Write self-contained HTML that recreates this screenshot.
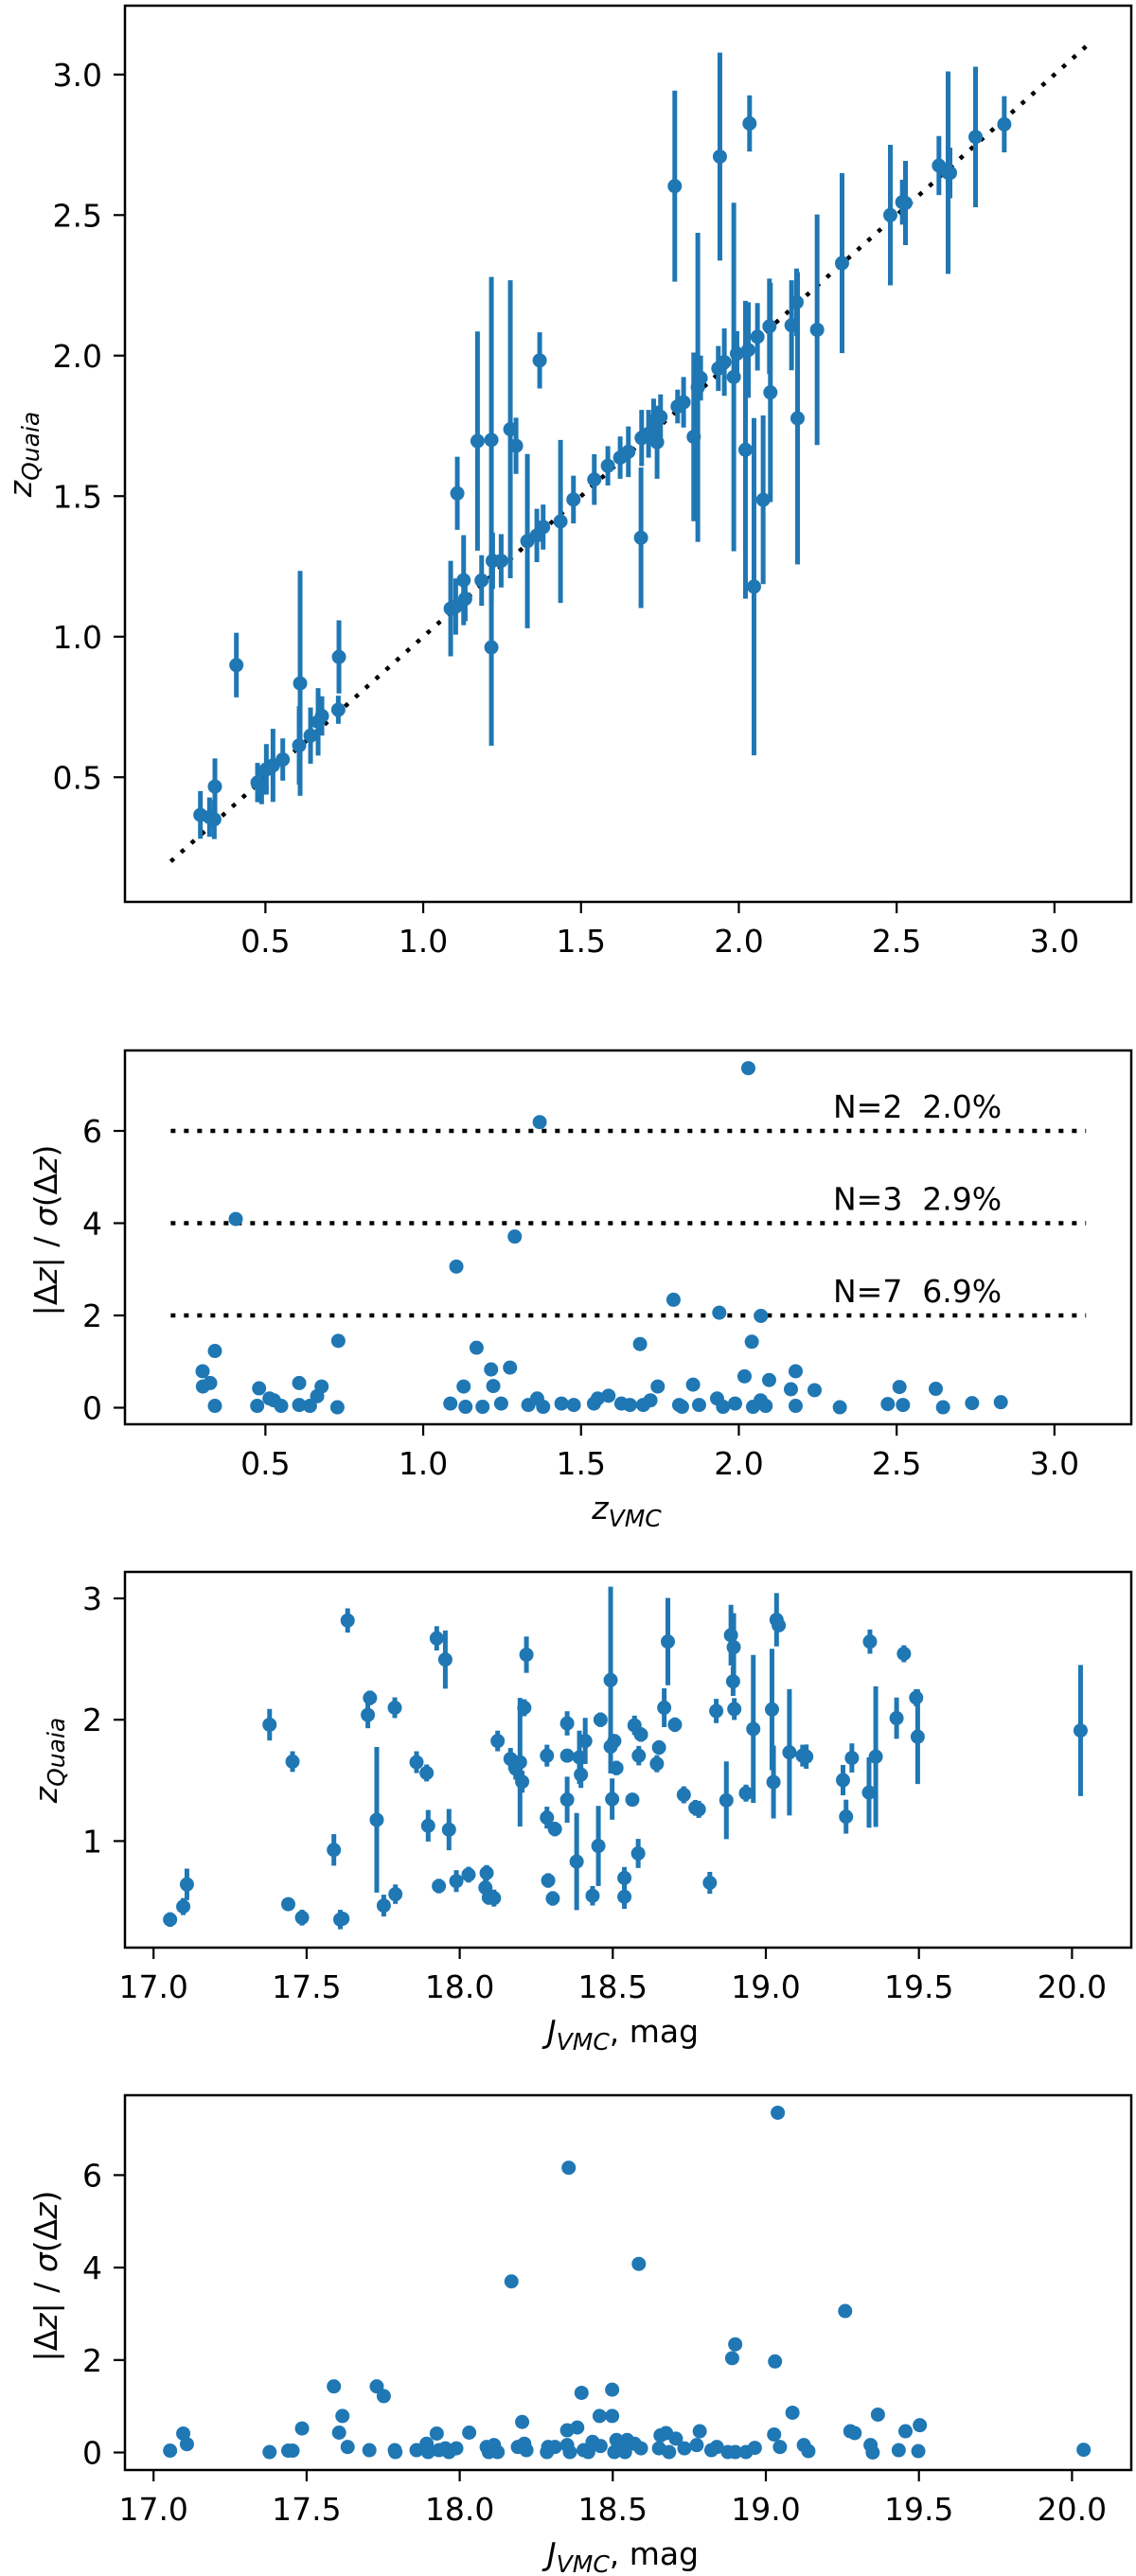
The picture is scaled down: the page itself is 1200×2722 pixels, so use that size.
<!DOCTYPE html>
<html><head><meta charset="utf-8">
<style>
html,body{margin:0;padding:0;background:#fff;}
svg{display:block;font-family:"DejaVu Sans","Liberation Sans",sans-serif;}
</style></head>
<body>
<svg id="fig" xmlns="http://www.w3.org/2000/svg" width="1200" height="2722" viewBox="0 0 1200 2722"></svg>
<script>
// ---------- Panel 1: z_Quaia vs z_VMC (with errors) ----------
const p1X = [0.294,0.323,0.340,0.338,0.408,0.475,0.488,0.503,0.524,0.555,0.607,0.610,0.643,0.667,0.679,0.731,0.733,1.087,1.103,1.108,1.128,1.133,1.172,1.185,1.216,1.216,1.220,1.247,1.276,1.294,1.330,1.360,1.380,1.369,1.435,1.476,1.542,1.585,1.624,1.650,1.692,1.690,1.714,1.741,1.730,1.752,1.806,1.825,1.797,1.857,1.870,1.879,1.940,1.935,1.954,1.984,1.994,2.034,2.021,2.030,2.048,2.059,2.077,2.097,2.100,2.167,2.183,2.186,2.248,2.327,2.480,2.518,2.528,2.634,2.663,2.669,2.750,2.841];
const p1Y = [0.366,0.358,0.467,0.350,0.899,0.481,0.464,0.528,0.542,0.563,0.613,0.834,0.648,0.697,0.718,0.740,0.928,1.100,1.107,1.510,1.201,1.135,1.696,1.200,1.700,0.962,1.270,1.270,1.738,1.679,1.340,1.360,1.390,1.983,1.410,1.488,1.559,1.608,1.637,1.658,1.707,1.352,1.722,1.692,1.767,1.782,1.819,1.834,2.603,1.711,1.887,1.920,2.708,1.954,1.977,1.924,2.007,2.826,1.665,2.020,1.178,2.067,1.487,2.104,1.869,2.108,2.190,1.777,2.092,2.329,2.500,2.546,2.543,2.676,2.651,2.650,2.778,2.823];
const p1Err = [0.085,0.07,0.10,0.07,0.115,0.07,0.06,0.09,0.13,0.075,0.14,0.40,0.10,0.12,0.07,0.05,0.13,0.17,0.10,0.13,0.16,0.08,0.39,0.09,0.58,0.35,0.10,0.095,0.53,0.10,0.31,0.095,0.08,0.10,0.29,0.085,0.09,0.07,0.075,0.09,0.10,0.25,0.085,0.13,0.08,0.08,0.06,0.09,0.34,0.30,0.55,0.08,0.37,0.08,0.12,0.62,0.08,0.10,0.53,0.17,0.60,0.12,0.30,0.17,0.39,0.16,0.12,0.52,0.41,0.32,0.25,0.08,0.15,0.105,0.36,0.09,0.25,0.10];
const p1Ticks = [0.5,1.0,1.5,2.0,2.5,3.0];
const p1TickLabels = ["0.5","1.0","1.5","2.0","2.5","3.0"];
const oneToOne = [0.2,3.1];

// ---------- Panel 2: |dz|/sigma vs z_VMC ----------
const p2X = [0.301,0.302,0.325,0.340,0.340,0.406,0.474,0.480,0.513,0.527,0.550,0.607,0.607,0.641,0.664,0.678,0.728,0.731,1.086,1.105,1.128,1.134,1.169,1.188,1.215,1.222,1.247,1.275,1.290,1.333,1.361,1.369,1.380,1.438,1.477,1.541,1.553,1.587,1.628,1.655,1.687,1.697,1.720,1.743,1.793,1.811,1.820,1.855,1.874,1.931,1.938,1.950,1.988,2.018,2.030,2.041,2.045,2.069,2.070,2.085,2.096,2.165,2.180,2.180,2.240,2.320,2.472,2.509,2.520,2.624,2.647,2.739,2.830];
const p2V = [0.79,0.46,0.535,1.23,0.04,4.09,0.04,0.42,0.20,0.16,0.04,0.535,0.06,0.04,0.25,0.46,0.01,1.45,0.09,3.06,0.46,0.02,1.30,0.02,0.83,0.47,0.09,0.87,3.71,0.06,0.20,6.19,0.02,0.09,0.06,0.09,0.20,0.26,0.09,0.06,1.38,0.06,0.16,0.46,2.34,0.06,0.02,0.50,0.06,0.20,2.06,0.02,0.09,0.68,7.36,1.43,0.02,0.16,1.99,0.04,0.60,0.40,0.04,0.79,0.38,0.01,0.08,0.45,0.06,0.41,0.01,0.10,0.12];
const p2Thresholds = [2,4,6];
const p2Notes = ["N=7  6.9%","N=3  2.9%","N=2  2.0%"];
const p2Ticks = [0,2,4,6];

// ---------- Panel 3: z_Quaia vs J_VMC ----------
const p3J = [17.054,17.097,17.109,17.379,17.44,17.454,17.485,17.589,17.61,17.617,17.634,17.70,17.707,17.729,17.752,17.788,17.79,17.859,17.892,17.897,17.925,17.932,17.953,17.965,17.989,18.029,18.088,18.084,18.095,18.112,18.124,18.166,18.183,18.197,18.204,18.211,18.218,18.285,18.285,18.289,18.304,18.311,18.351,18.351,18.351,18.382,18.391,18.396,18.41,18.434,18.453,18.46,18.493,18.493,18.498,18.505,18.512,18.538,18.538,18.564,18.571,18.585,18.583,18.592,18.644,18.651,18.668,18.68,18.703,18.732,18.77,18.781,18.817,18.838,18.871,18.886,18.893,18.895,18.897,18.935,18.959,19.02,19.025,19.035,19.042,19.077,19.12,19.132,19.252,19.262,19.281,19.337,19.34,19.359,19.427,19.451,19.491,19.496,20.028];
const p3Z = [0.353,0.46,0.643,1.959,0.48,1.655,0.369,0.927,0.353,0.36,2.818,2.04,2.18,1.175,0.468,2.099,0.562,1.65,1.561,1.126,2.671,0.629,2.496,1.094,0.67,0.723,0.737,0.616,0.535,0.53,1.825,1.677,1.596,1.65,1.489,2.099,2.536,1.704,1.193,0.675,0.527,1.099,1.97,1.341,1.704,0.831,1.69,1.548,1.825,0.549,0.96,2.0,2.327,1.779,1.346,1.825,1.602,0.696,0.541,1.341,1.954,1.704,0.898,1.878,1.637,1.771,2.099,2.644,1.959,1.381,1.274,1.261,0.656,2.072,1.336,2.697,2.316,2.598,2.088,1.395,1.924,2.085,1.486,2.824,2.778,1.731,1.704,1.696,1.502,1.201,1.685,1.40,2.644,1.696,2.013,2.544,2.182,1.86,1.911];
const p3Err = [0.06,0.07,0.13,0.13,0.05,0.085,0.065,0.13,0.08,0.05,0.10,0.11,0.06,0.60,0.09,0.085,0.08,0.09,0.07,0.13,0.10,0.06,0.24,0.17,0.09,0.065,0.065,0.07,0.06,0.07,0.085,0.09,0.09,0.53,0.09,0.07,0.15,0.09,0.09,0.06,0.06,0.06,0.10,0.19,0.05,0.40,0.22,0.11,0.19,0.08,0.33,0.06,0.77,0.05,0.17,0.05,0.06,0.09,0.10,0.05,0.08,0.08,0.12,0.06,0.07,0.06,0.16,0.36,0.06,0.07,0.065,0.07,0.09,0.10,0.32,0.25,0.12,0.28,0.09,0.07,0.61,0.50,0.30,0.22,0.05,0.52,0.09,0.10,0.125,0.14,0.12,0.29,0.10,0.58,0.17,0.07,0.07,0.39,0.54];
const p3YTicks = [1,2,3];
const jTicks = [17.0,17.5,18.0,18.5,19.0,19.5,20.0];
const jTickLabels = ["17.0","17.5","18.0","18.5","19.0","19.5","20.0"];

// ---------- Panel 4: |dz|/sigma vs J_VMC ----------
const p4J = [17.054,17.097,17.109,17.379,17.44,17.454,17.485,17.589,17.606,17.617,17.634,17.705,17.729,17.752,17.788,17.79,17.859,17.892,17.897,17.925,17.932,17.953,17.965,17.989,18.031,18.088,18.095,18.112,18.124,18.169,18.19,18.204,18.211,18.218,18.285,18.289,18.311,18.351,18.356,18.351,18.36,18.384,18.398,18.405,18.42,18.434,18.457,18.46,18.498,18.498,18.505,18.512,18.533,18.54,18.547,18.571,18.585,18.592,18.651,18.656,18.674,18.684,18.706,18.734,18.774,18.784,18.822,18.84,18.876,18.89,18.90,18.90,18.935,18.964,19.027,19.03,19.039,19.046,19.087,19.124,19.139,19.259,19.276,19.29,19.342,19.349,19.366,19.434,19.456,19.498,19.503,20.038];
const p4V = [0.04,0.41,0.18,0.01,0.04,0.04,0.52,1.43,0.43,0.79,0.12,0.05,1.43,1.22,0.05,0.01,0.05,0.19,0.01,0.41,0.05,0.09,0.01,0.09,0.43,0.12,0.01,0.16,0.01,3.70,0.12,0.66,0.19,0.05,0.01,0.12,0.12,0.48,6.16,0.16,0.01,0.54,1.29,0.05,0.01,0.23,0.79,0.14,0.79,1.36,0.01,0.27,0.14,0.01,0.27,0.19,4.08,0.09,0.09,0.37,0.42,0.01,0.30,0.09,0.16,0.46,0.05,0.12,0.01,2.04,2.34,0.01,0.01,0.10,0.39,1.97,7.35,0.12,0.86,0.16,0.03,3.06,0.46,0.42,0.16,0.0,0.82,0.05,0.46,0.03,0.59,0.06];
const p4Ticks = [0,2,4,6];

const NS = "http://www.w3.org/2000/svg";
const svg = document.getElementById("fig");
const BLUE = "#1f77b4";
function mk(tag, attrs, parent){
  const e = document.createElementNS(NS, tag);
  for (const k in attrs) e.setAttribute(k, attrs[k]);
  (parent||svg).appendChild(e);
  return e;
}
const L = 132, R = 1195;
const xz = v => L + (v - 0.055) * 333.4;
const y1 = v => 6 + (3.245 - v) * 297;
const y2 = v => 1487.5 - v * 48.75;
const xj = v => 162.2 + (v - 17) * 323.4;
const y3 = v => 1945.4 - (v - 1) * 128.2;
const y4 = v => 2591.5 - v * 48.85;

const panels = [
  {name:"panel-zquaia-vs-zvmc"},
  {name:"panel-ratio-vs-zvmc"},
  {name:"panel-zquaia-vs-jmag"},
  {name:"panel-ratio-vs-jmag"}
];
const groups = [];
panels.forEach(p => {
  const g = mk("g", {});
  
  
  groups.push(g);
});

function xTicks(g, vals, labels, fx, bot){
  vals.forEach((v,i) => {
    const t = mk("line", {x1:fx(v), x2:fx(v), y1:bot, y2:bot+12, stroke:"#000","stroke-width":2.2}, g);
    
    
    const tx = mk("text", {x:fx(v), y:bot+53, "font-size":33, "text-anchor":"middle", fill:"#000"}, g);
    tx.textContent = labels[i];
    
    
  });
}
function yTicks(g, vals, labels, fy){
  vals.forEach((v,i) => {
    const t = mk("line", {x1:L-12, x2:L, y1:fy(v), y2:fy(v), stroke:"#000","stroke-width":2.2}, g);
    
    
    const tx = mk("text", {x:L-24, y:fy(v)+12, "font-size":33, "text-anchor":"end", fill:"#000"}, g);
    tx.textContent = labels[i];
    
    
  });
}
function frame(g, top, bot){
  const r = mk("rect", {x:L, y:top, width:R-L, height:bot-top, fill:"none", stroke:"#000", "stroke-width":2.5}, g);
  
  
}
function errbars(g, xs, ys, es, fx, fy){
  xs.forEach((x,i) => {
    const l = mk("line", {x1:fx(x), x2:fx(x), y1:fy(ys[i]-es[i]), y2:fy(ys[i]+es[i]), stroke:BLUE, "stroke-width":5}, g);
    
    
  });
}
function dots(g, xs, ys, fx, fy){
  xs.forEach((x,i) => {
    const c = mk("circle", {cx:fx(x), cy:fy(ys[i]), r:7.5, fill:BLUE}, g);
    
    
  });
}
function yLabel(g, cx, cy, html){
  const t = mk("text", {x:0, y:0, "font-size":33, "text-anchor":"middle", fill:"#000", transform:`translate(${cx},${cy}) rotate(-90)`}, g);
  t.innerHTML = html;
  
  
}
function xLabel(g, cx, by, html){
  const t = mk("text", {x:cx, y:by, "font-size":33, "text-anchor":"middle", fill:"#000"}, g);
  t.innerHTML = html;
  
  
}
const zq = '<tspan font-style="italic">z</tspan><tspan font-style="italic" font-size="25" dy="8">Quaia</tspan>';
const ratioLbl = '|Δ<tspan font-style="italic">z</tspan>| / <tspan font-style="italic">σ</tspan>(Δ<tspan font-style="italic">z</tspan>)';
const jLbl = '<tspan font-style="italic">J</tspan><tspan font-style="italic" font-size="25" dy="8">VMC</tspan><tspan dy="-8">, mag</tspan>';

// Panel 1
{
  const g = groups[0];
  const ln = mk("line", {x1:xz(oneToOne[0]), y1:y1(oneToOne[0]), x2:xz(oneToOne[1]), y2:y1(oneToOne[1]), stroke:"#000", "stroke-width":4.5, "stroke-dasharray":"4.5 10"}, g);
  
  
  errbars(g, p1X, p1Y, p1Err, xz, y1);
  dots(g, p1X, p1Y, xz, y1);
  frame(g, 6, 953);
  xTicks(g, p1Ticks, p1TickLabels, xz, 953);
  yTicks(g, p1Ticks, p1TickLabels, y1);
  yLabel(g, 33, 480, zq);
}
// Panel 2
{
  const g = groups[1];
  p2Thresholds.forEach((t,i) => {
    const ln = mk("line", {x1:xz(0.2), x2:xz(3.1), y1:y2(t), y2:y2(t), stroke:"#000", "stroke-width":4.5, "stroke-dasharray":"5 9"}, g);
    
    
    const tx = mk("text", {x:880, y:y2(t)-14, "font-size":33, fill:"#000", style:"white-space:pre"}, g);
    tx.textContent = p2Notes[i];
    
    
  });
  dots(g, p2X, p2V, xz, y2);
  frame(g, 1110, 1505);
  xTicks(g, p1Ticks, p1TickLabels, xz, 1505);
  yTicks(g, p2Ticks, p2Ticks.map(String), y2);
  yLabel(g, 60, 1300, ratioLbl);
  xLabel(g, 662, 1605, '<tspan font-style="italic">z</tspan><tspan font-style="italic" font-size="25" dy="8">VMC</tspan>');
}
// Panel 3
{
  const g = groups[2];
  errbars(g, p3J, p3Z, p3Err, xj, y3);
  dots(g, p3J, p3Z, xj, y3);
  frame(g, 1661, 2058);
  xTicks(g, jTicks, jTickLabels, xj, 2058);
  yTicks(g, p3YTicks, p3YTicks.map(String), y3);
  yLabel(g, 60, 1860, zq);
  xLabel(g, 658, 2158, jLbl);
}
// Panel 4
{
  const g = groups[3];
  dots(g, p4J, p4V, xj, y4);
  frame(g, 2214, 2610);
  xTicks(g, jTicks, jTickLabels, xj, 2610);
  yTicks(g, p4Ticks, p4Ticks.map(String), y4);
  yLabel(g, 60, 2405, ratioLbl);
  xLabel(g, 658, 2710, jLbl);
}
</script>
</body></html>
